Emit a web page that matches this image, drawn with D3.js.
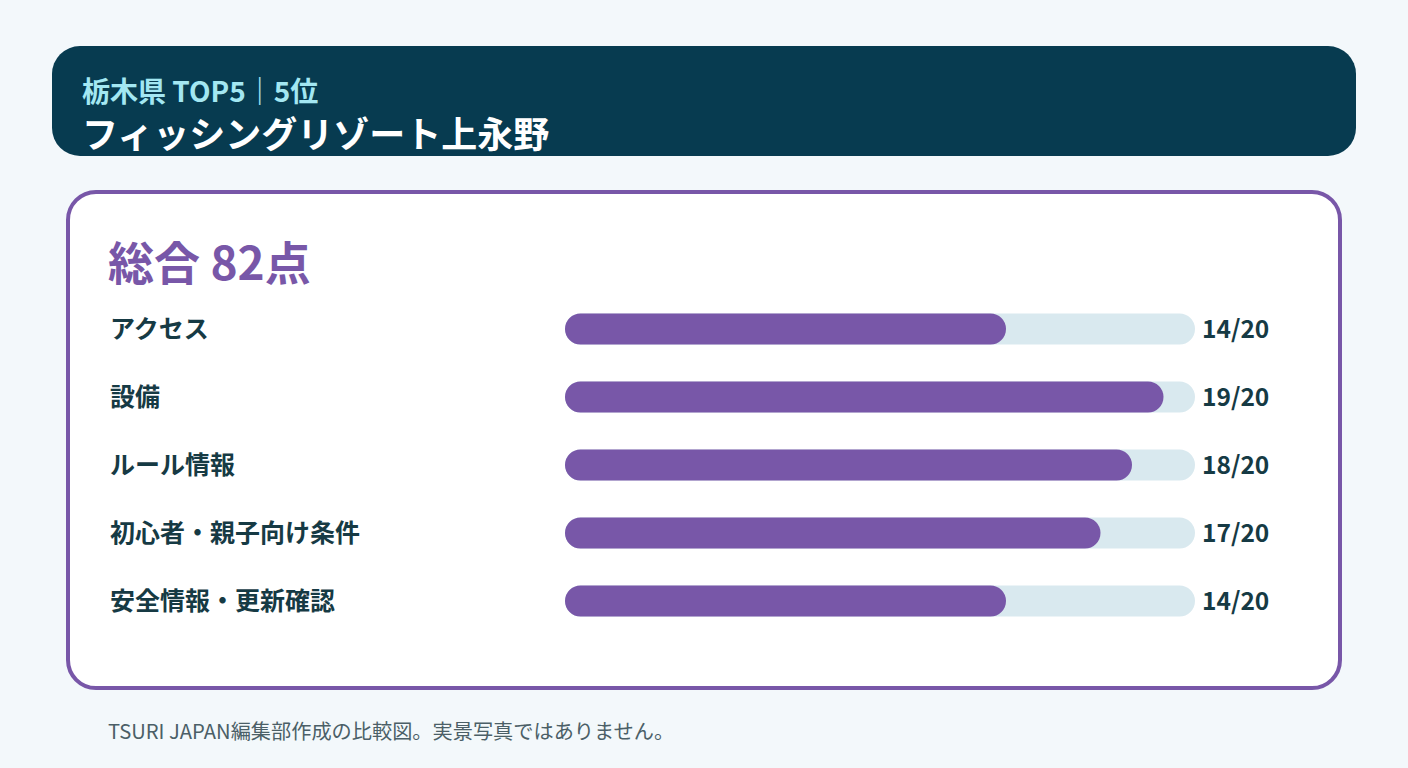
<!DOCTYPE html>
<html><head><meta charset="utf-8">
<script src="https://cdn.jsdelivr.net/npm/d3@7"></script>
<style>html,body{margin:0;padding:0;background:#f3f8fb;}svg{display:block;font-family:"Noto Sans CJK JP","Noto Sans",sans-serif;}</style>
</head><body><svg id="c" width="1408" height="768"></svg>
<script>
const categories = ["アクセス","設備","ルール情報","初心者・親子向け条件","安全情報・更新確認"];
const scores = [14,19,18,17,14];
const maxScore = 20;
const valueLabels = ["14/20","19/20","18/20","17/20","14/20"];
const subtitle = "栃木県 TOP5｜5位";
const title = "フィッシングリゾート上永野";
const totalLabel = "総合 82点";
const footnote = "TSURI JAPAN編集部作成の比較図。実景写真ではありません。";

const svg = d3.select("#c");
svg.append("rect").attr("width",1408).attr("height",768).attr("fill","#f3f8fb");
// header
svg.append("rect").attr("x",52).attr("y",46).attr("width",1304).attr("height",110).attr("rx",28).attr("fill","#073b50");
svg.append("text").attr("x",82).attr("y",102).attr("fill","#a3e7f2").attr("font-size",28).attr("font-weight",700).text(subtitle);
svg.append("text").attr("x",82).attr("y",148).attr("fill","#ffffff").attr("font-size",36).attr("font-weight",700).text(title);
// card
svg.append("rect").attr("x",68).attr("y",192).attr("width",1272).attr("height",496).attr("rx",28).attr("fill","#ffffff").attr("stroke","#7857a8").attr("stroke-width",4);
svg.append("text").attr("x",108).attr("y",280).attr("fill","#7857a8").attr("font-size",46).attr("font-weight",700).text(totalLabel);

const x = d3.scaleLinear().domain([0,maxScore]).range([565,1195]);
const y = d3.scaleBand().domain(categories).range([295,635]).paddingInner(0.56).paddingOuter(0.28);
const bh = 31;
const g = svg.append("g");
const rows = g.selectAll("g.row").data(categories.map((c,i)=>({c,v:scores[i],l:valueLabels[i]}))).join("g");
rows.append("rect").attr("x",x(0)).attr("y",d=>y(d.c)+y.bandwidth()/2-bh/2).attr("width",x(maxScore)-x(0)).attr("height",bh).attr("rx",bh/2).attr("fill","#d9e9ef");
rows.append("rect").attr("x",x(0)).attr("y",d=>y(d.c)+y.bandwidth()/2-bh/2).attr("width",d=>x(d.v)-x(0)).attr("height",bh).attr("rx",bh/2).attr("fill","#7857a8");
rows.append("text").attr("x",110).attr("y",d=>y(d.c)+y.bandwidth()/2).attr("dy","0.36em").attr("fill","#163a44").attr("font-size",25).attr("font-weight",700).text(d=>d.c);
rows.append("text").attr("x",1202).attr("y",d=>y(d.c)+y.bandwidth()/2).attr("dy","0.36em").attr("fill","#163a44").attr("font-size",24.5).attr("font-weight",700).text(d=>d.l);

svg.append("text").attr("x",108).attr("y",739).attr("fill","#4b5f67").attr("font-size",20.2).text(footnote);
</script></body></html>
